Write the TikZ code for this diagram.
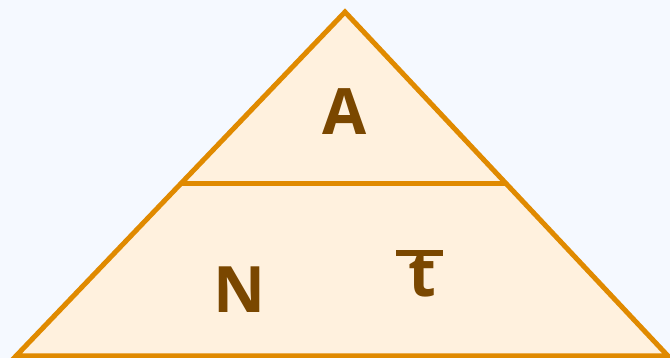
\documentclass[tikz,border=0pt]{standalone}
\usepackage{fontspec}
\setmainfont{Open Sans}
\definecolor{bgc}{HTML}{F5F9FF}
\definecolor{fillc}{HTML}{FFF1DE}
\definecolor{edgec}{HTML}{E08A00}
\definecolor{txtc}{HTML}{7A4700}
\begin{document}
\begin{tikzpicture}[x=1pt,y=1pt,
  lab/.style={anchor=base,text=txtc,font=\fontsize{64}{70}\selectfont\bfseries,inner sep=0pt},
  edge/.style={draw=edgec,line width=5pt,line join=miter}]
\fill[bgc] (0,0) rectangle (670,358);
\useasboundingbox (0,0) rectangle (670,358);
\coordinate (L) at (16,2);
\coordinate (T) at (345,346);
\coordinate (R) at (668,2);
\coordinate (ML) at (180.5,174);
\coordinate (MR) at (506.5,174);
\filldraw[edge,fill=fillc] (L) -- (T) -- (R) -- cycle;
\draw[edge] (ML) -- (MR);
\node[lab] (a) at (345,223) {A};
\node[lab] (n) at (240,45) {N};
\node[lab] (t) at (422,61) {t};
\draw[draw=txtc,line width=5.5pt] ([xshift=-26pt,yshift=44pt]t.base) -- ([xshift=21pt,yshift=44pt]t.base);
\end{tikzpicture}
\end{document}
